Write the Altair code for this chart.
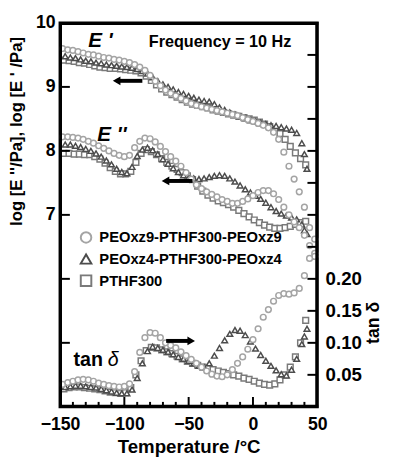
import altair as alt
import pandas as pd

FONT = "Liberation Sans"
SERIES = ["PEOxz9-PTHF300-PEOxz9", "PEOxz4-PTHF300-PEOxz4", "PTHF300"]
SHAPES = ["circle", "triangle-up", "square"]
COLORS = ["#a4a4a4", "#4c4c4c", "#7a7a7a"]

# ---- PEOxz9-PTHF300-PEOxz9 (circles)
T_C = [-148, -144, -140, -136, -132, -128, -124, -120, -116, -112, -108, -104, -100, -96, -92, -88,
       -84, -80, -76, -72, -68, -64, -60, -56, -52, -48, -44, -40, -36, -32, -28, -24, -20, -16,
       -12, -8, -4, 0, 4, 8, 12, 16, 20, 24, 28, 32, 36, 40, 44, 48]
C_E1 = [9.60, 9.58, 9.57, 9.55, 9.53, 9.51, 9.50, 9.48, 9.46, 9.45, 9.43, 9.42, 9.40, 9.38, 9.35, 9.31,
        9.26, 9.18, 9.09, 9.02, 8.95, 8.90, 8.86, 8.82, 8.78, 8.74, 8.71, 8.69, 8.67, 8.65, 8.63, 8.61, 8.59, 8.57,
        8.55, 8.52, 8.49, 8.46, 8.43, 8.40, 8.36, 8.29, 8.18, 7.98, 7.76, 7.56, 7.36, 7.12, 6.80, 6.40]
C_E2 = [8.22, 8.22, 8.21, 8.20, 8.18, 8.15, 8.12, 8.08, 8.04, 8.00, 7.96, 7.93, 7.91, 7.93, 8.05, 8.15,
        8.20, 8.19, 8.14, 8.07, 7.99, 7.91, 7.84, 7.76, 7.66, 7.56, 7.47, 7.41, 7.36, 7.32, 7.28, 7.24, 7.21, 7.18,
        7.18, 7.21, 7.25, 7.30, 7.35, 7.38, 7.38, 7.33, 7.24, 7.12, 7.00, 6.89, 6.80, 6.68, 6.52, 6.35]
C_TAN = [0.035, 0.038, 0.040, 0.042, 0.043, 0.042, 0.040, 0.037, 0.035, 0.033, 0.032, 0.031, 0.032, 0.036, 0.055, 0.085,
         0.108, 0.116, 0.115, 0.108, 0.100, 0.096, 0.092, 0.086, 0.080, 0.074, 0.068, 0.062, 0.056, 0.051, 0.048, 0.047, 0.050, 0.058,
         0.068, 0.078, 0.090, 0.105, 0.122, 0.140, 0.152, 0.165, 0.174, 0.177, 0.176, 0.178, 0.185, 0.205, 0.232, 0.262]

# ---- PEOxz4-PTHF300-PEOxz4 (triangles)
T_T = [-146, -142, -138, -134, -130, -126, -122, -118, -114, -110, -106, -102, -98, -94, -90, -86,
       -82, -78, -74, -70, -66, -62, -58, -54, -50, -46, -42, -38, -34, -30, -26, -22, -18, -14,
       -10, -6, -2, 2, 6, 10, 14, 18, 22, 26, 30, 34, 38, 40, 42]
T_E1 = [9.48, 9.46, 9.45, 9.43, 9.41, 9.40, 9.38, 9.37, 9.35, 9.34, 9.33, 9.32, 9.31, 9.30, 9.28, 9.25,
        9.21, 9.15, 9.09, 9.04, 9.00, 8.96, 8.92, 8.89, 8.86, 8.83, 8.80, 8.78, 8.77, 8.73, 8.68, 8.64, 8.60, 8.57,
        8.54, 8.51, 8.48, 8.46, 8.44, 8.42, 8.40, 8.39, 8.37, 8.35, 8.33, 8.28, 8.12, 7.95, 7.72]
T_E2 = [8.10, 8.10, 8.08, 8.06, 8.03, 8.00, 7.96, 7.91, 7.85, 7.79, 7.72, 7.67, 7.65, 7.75, 7.92, 8.02,
        8.05, 8.01, 7.95, 7.87, 7.80, 7.73, 7.67, 7.62, 7.58, 7.57, 7.56, 7.57, 7.59, 7.61, 7.62, 7.61, 7.57, 7.52,
        7.46, 7.40, 7.35, 7.30, 7.25, 7.19, 7.12, 7.06, 7.02, 6.99, 6.96, 6.93, 6.85, 6.76, 6.70]
T_TAN = [0.031, 0.032, 0.033, 0.033, 0.032, 0.031, 0.030, 0.028, 0.026, 0.024, 0.022, 0.021, 0.021, 0.027, 0.045, 0.068,
         0.087, 0.094, 0.092, 0.089, 0.086, 0.082, 0.078, 0.075, 0.072, 0.068, 0.064, 0.062, 0.068, 0.080, 0.092, 0.104, 0.114, 0.120,
         0.119, 0.112, 0.102, 0.091, 0.081, 0.072, 0.064, 0.057, 0.051, 0.049, 0.058, 0.075, 0.098, 0.110, 0.122]

# ---- PTHF300 (squares)
T_S = [-147, -143, -139, -135, -131, -127, -123, -119, -115, -111, -107, -103, -99, -95, -91, -87,
       -83, -79, -75, -71, -67, -63, -59, -55, -51, -47, -43, -39, -35, -31, -27, -23, -19, -15,
       -11, -7, -3, 1, 5, 9, 13, 17, 21, 25, 29, 33, 37, 41]
S_E1 = [9.42, 9.41, 9.40, 9.38, 9.37, 9.35, 9.33, 9.31, 9.30, 9.29, 9.29, 9.28, 9.27, 9.26, 9.25, 9.22,
        9.17, 9.10, 9.03, 8.97, 8.92, 8.88, 8.84, 8.80, 8.76, 8.73, 8.71, 8.69, 8.67, 8.64, 8.62, 8.60, 8.58, 8.56,
        8.54, 8.52, 8.50, 8.48, 8.45, 8.42, 8.38, 8.33, 8.27, 8.18, 8.07, 7.97, 7.88, 7.78]
S_E2 = [7.96, 7.96, 7.95, 7.95, 7.94, 7.94, 7.91, 7.87, 7.81, 7.74, 7.68, 7.64, 7.64, 7.68, 7.82, 7.96,
        8.02, 7.99, 7.94, 7.88, 7.82, 7.76, 7.71, 7.66, 7.61, 7.55, 7.45, 7.37, 7.31, 7.26, 7.22, 7.19, 7.16, 7.12,
        7.07, 7.02, 6.97, 6.92, 6.88, 6.84, 6.81, 6.79, 6.79, 6.80, 6.82, 6.85, 6.88, 6.90]
S_TAN = [0.028, 0.030, 0.031, 0.031, 0.030, 0.029, 0.028, 0.027, 0.025, 0.023, 0.022, 0.021, 0.022, 0.030, 0.050, 0.072,
         0.088, 0.093, 0.092, 0.089, 0.086, 0.083, 0.079, 0.075, 0.071, 0.068, 0.065, 0.062, 0.060, 0.058, 0.056, 0.054, 0.052, 0.050,
         0.048, 0.045, 0.043, 0.040, 0.037, 0.035, 0.034, 0.036, 0.042, 0.050, 0.062, 0.078, 0.100, 0.135]

# ---- axes / annotations
X_LABELS = [-150, -100, -50, 0, 50]
X_MINOR = [-140, -130, -120, -110, -90, -80, -70, -60, -40, -30, -20, -10, 10, 20, 30, 40]
X_MAJOR = [-100, -50, 0]
Y_LABELS = [7, 8, 9, 10]
Y_TICKS = [5, 6, 7, 8, 9]
TAN_LABELS = [0.05, 0.10, 0.15, 0.20]
TAN_TICKS = [0.05, 0.10, 0.15, 0.20, 0.25, 0.30, 0.35, 0.40, 0.45, 0.50, 0.55]
FRAME_ROW = [1]

ANN_E_TEXT = ["E '", "E ''"]
ANN_E_T = [-128, -121]
ANN_E_V = [9.63, 8.16]
ANN_F_TEXT = ["Frequency = 10 Hz"]
ANN_F_T = [-81]
ANN_F_V = [9.62]
ARR_L_X1 = [-106, -68]
ARR_L_X2 = [-86, -47]
ARR_L_HEAD = [-106, -68]
ARR_L_V = [9.095, 7.53]
TAN_TXT_T = [-139.5]
DELTA_T = [-113]
TAN_TXT_V = [0.064]
ARR_R_X1 = [-67.5]
ARR_R_X2 = [-49]
ARR_R_HEAD = [-48]
ARR_R_V = [0.103]

W, H = 262, 391

rows_E, rows_tan = [], []
for s, T, e1, e2, tn in [(SERIES[2], T_S, S_E1, S_E2, S_TAN),
                         (SERIES[1], T_T, T_E1, T_E2, T_TAN),
                         (SERIES[0], T_C, C_E1, C_E2, C_TAN)]:
    for t, a, b, c in zip(T, e1, e2, tn):
        rows_E.append({"T": t, "v": a, "series": s})
        rows_E.append({"T": t, "v": b, "series": s})
        rows_tan.append({"T": t, "v": c, "series": s})
dfE = pd.DataFrame(rows_E)
dfTan = pd.DataFrame(rows_tan)

xs = alt.Scale(domain=[-150, 50], nice=False, zero=False)
ysL = alt.Scale(domain=[4, 10], nice=False, zero=False)
ysR = alt.Scale(domain=[0, 0.6], nice=False, zero=False)

legend = alt.Legend(orient="none", legendX=19, legendY=211, padding=0, title=None,
                    symbolSize=115, symbolStrokeWidth=2, symbolFillColor="white",
                    labelFont=FONT, labelFontSize=15, labelFontWeight="bold", labelLimit=0,
                    labelColor="black", rowPadding=3, labelOffset=6, symbolOffset=0)
shape_scale = alt.Scale(domain=SERIES, range=SHAPES)
stroke_scale = alt.Scale(domain=SERIES, range=COLORS)

x_axis = alt.Axis(values=X_LABELS, ticks=False, domain=False, grid=False, labelFont=FONT,
                  labelFontSize=18, labelFontWeight="bold", labelColor="black", labelPadding=9,
                  labelFlush=False, title="Temperature /°C", titleFont=FONT, titleFontSize=19,
                  titleFontWeight="bold", titleColor="black", titlePadding=5)
yL_axis = alt.Axis(values=Y_LABELS, ticks=False, domain=False, grid=False, labelFont=FONT,
                   labelFontSize=18, labelFontWeight="bold", labelColor="black", labelPadding=5,
                   labelFlush=False, title="log [E ''/Pa], log [E ' /Pa]", titleFont=FONT, titleFontSize=17,
                   titleFontWeight="bold", titleColor="black", titleX=-44, titleY=110,
                   titleAlign="center", titleBaseline="middle", titleAngle=270)
yR_axis = alt.Axis(orient="right", values=TAN_LABELS, format=".2f", ticks=False, domain=False, grid=False,
                   labelFont=FONT, labelFontSize=19, labelFontWeight="bold", labelColor="black",
                   labelPadding=8, labelFlush=False, title="tan δ", titleFont=FONT, titleFontSize=18,
                   titleFontWeight="bold", titleColor="black", titleX=57, titleY=305,
                   titleAlign="center", titleBaseline="middle", titleAngle=270)

X = lambda f: alt.X(f, scale=xs, axis=x_axis)

ptsE = alt.Chart(dfE).mark_point(filled=True, fill="white", strokeWidth=1.5, size=34, opacity=1).encode(
    x=X("T:Q"),
    y=alt.Y("v:Q", scale=ysL, axis=yL_axis),
    shape=alt.Shape("series:N", scale=shape_scale, legend=legend),
    stroke=alt.Stroke("series:N", scale=stroke_scale, legend=legend))

ptsT = alt.Chart(dfTan).mark_point(filled=True, fill="white", strokeWidth=1.5, size=34, opacity=1).encode(
    x=X("T:Q"),
    y=alt.Y("v:Q", scale=ysR, axis=yR_axis),
    shape=alt.Shape("series:N", scale=shape_scale, legend=legend),
    stroke=alt.Stroke("series:N", scale=stroke_scale, legend=legend))

ticksL = alt.Chart(pd.DataFrame({"v": Y_TICKS})).mark_rule(color="black", strokeWidth=2).encode(
    y=alt.Y("v:Q", scale=ysL, axis=None), x=alt.value(0), x2=alt.value(10))
ticksR = alt.Chart(pd.DataFrame({"v": TAN_TICKS})).mark_rule(color="black", strokeWidth=2).encode(
    y=alt.Y("v:Q", scale=ysR, axis=None), x=alt.value(W - 10), x2=alt.value(W))
ticksXm = alt.Chart(pd.DataFrame({"T": X_MINOR})).mark_rule(color="black", strokeWidth=2).encode(
    x=X("T:Q"), y=alt.value(H), y2=alt.value(H - 5))
ticksXM = alt.Chart(pd.DataFrame({"T": X_MAJOR})).mark_rule(color="black", strokeWidth=2).encode(
    x=X("T:Q"), y=alt.value(H), y2=alt.value(H - 10))

# frame around the plot area, drawn as four rules
fr = pd.DataFrame({"k": FRAME_ROW})
frameL = alt.Chart(fr).mark_rule(color="black", strokeWidth=3).encode(
    x=alt.value(0.5), y=alt.value(-1), y2=alt.value(H + 1))
frameRt = alt.Chart(fr).mark_rule(color="black", strokeWidth=3).encode(
    x=alt.value(W - 0.5), y=alt.value(-1), y2=alt.value(H + 1))
frameT = alt.Chart(fr).mark_rule(color="black", strokeWidth=3).encode(
    y=alt.value(0.5), x=alt.value(-1), x2=alt.value(W + 1))
frameB = alt.Chart(fr).mark_rule(color="black", strokeWidth=3).encode(
    y=alt.value(H - 0.5), x=alt.value(-1), x2=alt.value(W + 1))

annE = alt.Chart(pd.DataFrame({"T": ANN_E_T, "v": ANN_E_V, "t": ANN_E_TEXT})).mark_text(
    font=FONT, fontSize=21, fontWeight="bold", fontStyle="italic", align="left", baseline="alphabetic",
    color="black").encode(x=X("T:Q"), y=alt.Y("v:Q", scale=ysL, axis=None), text="t:N")
annF = alt.Chart(pd.DataFrame({"T": ANN_F_T, "v": ANN_F_V, "t": ANN_F_TEXT})).mark_text(
    font=FONT, fontSize=16.5, fontWeight="bold", align="left", baseline="alphabetic", color="black").encode(
    x=X("T:Q"), y=alt.Y("v:Q", scale=ysL, axis=None), text="t:N")
arrL = alt.Chart(pd.DataFrame({"T": ARR_L_X1, "x2": ARR_L_X2, "v": ARR_L_V})).mark_rule(
    color="black", strokeWidth=4).encode(x=X("T:Q"), x2="x2:Q", y=alt.Y("v:Q", scale=ysL, axis=None))
headL = alt.Chart(pd.DataFrame({"T": ARR_L_HEAD, "v": ARR_L_V})).mark_point(
    shape="triangle-left", filled=True, color="black", size=80, opacity=1).encode(
    x=X("T:Q"), y=alt.Y("v:Q", scale=ysL, axis=None))

annTan = alt.Chart(pd.DataFrame({"T": TAN_TXT_T, "v": TAN_TXT_V, "t": ["tan"]})).mark_text(
    font=FONT, fontSize=20, fontWeight="bold", align="left", baseline="alphabetic", color="black").encode(
    x=X("T:Q"), y=alt.Y("v:Q", scale=ysR, axis=None), text="t:N")
annDelta = alt.Chart(pd.DataFrame({"T": DELTA_T, "v": TAN_TXT_V, "t": ["δ"]})).mark_text(
    font=FONT, fontSize=20, fontStyle="italic", align="left", baseline="alphabetic", color="black").encode(
    x=X("T:Q"), y=alt.Y("v:Q", scale=ysR, axis=None), text="t:N")
arrR = alt.Chart(pd.DataFrame({"T": ARR_R_X1, "x2": ARR_R_X2, "v": ARR_R_V})).mark_rule(
    color="black", strokeWidth=4).encode(x=X("T:Q"), x2="x2:Q", y=alt.Y("v:Q", scale=ysR, axis=None))
headR = alt.Chart(pd.DataFrame({"T": ARR_R_HEAD, "v": ARR_R_V})).mark_point(
    shape="triangle-right", filled=True, color="black", size=80, opacity=1).encode(
    x=X("T:Q"), y=alt.Y("v:Q", scale=ysR, axis=None))

chart = alt.layer(ptsE, ptsT, ticksL, ticksR, ticksXm, ticksXM, annE, annF, arrL, headL,
                  annTan, annDelta, arrR, headR, frameL, frameRt, frameT, frameB
                  ).resolve_scale(y="independent").properties(
    width=W, height=H,
    autosize=alt.AutoSizeParams(type="none"),
    padding={"left": 53, "top": 11, "right": 70, "bottom": 52},
).configure_view(stroke="black", strokeWidth=3)

chart.save("out.html", embed_options={"renderer": "svg", "actions": False})
